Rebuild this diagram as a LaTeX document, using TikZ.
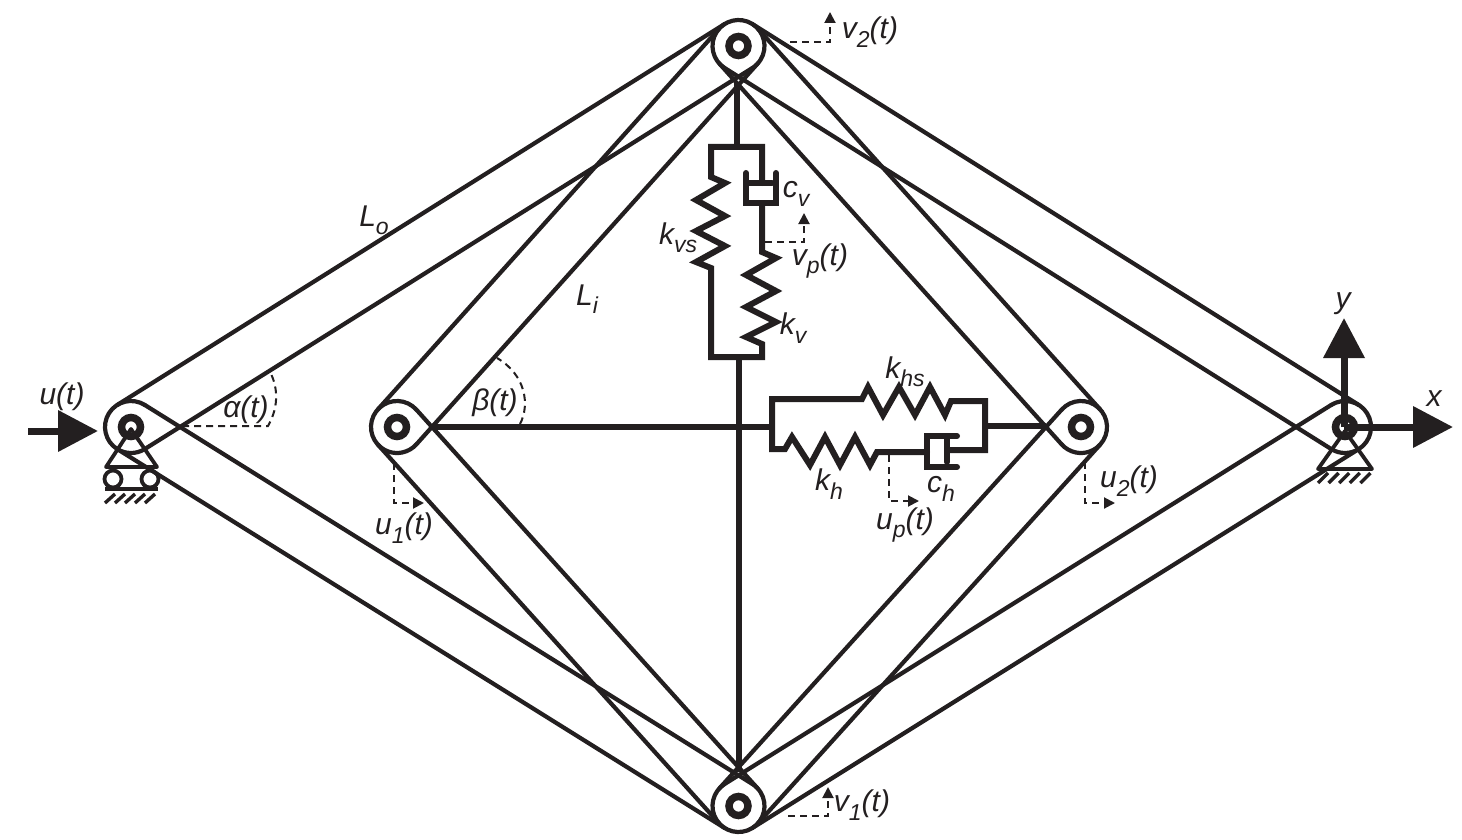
\documentclass[tikz,border=0pt]{standalone}
\usepackage{fontspec}
\setmainfont{Liberation Sans}
\usetikzlibrary{calc,arrows.meta}
\definecolor{ink}{HTML}{231F20}
\newcommand{\sbs}[1]{\raisebox{-0.28em}{\fontsize{23}{23}\selectfont #1}}
\newcommand{\rodbar}[2]{%
  \draw[rodline] ($(#1)!26pt!90:(#2)$) -- ($(#2)!26pt!-90:(#1)$);
  \draw[rodline] ($(#1)!26pt!-90:(#2)$) -- ($(#2)!26pt!90:(#1)$);}
\newcommand{\pinarc}[3]{\draw[rodline] ($(#1)+(#2:26pt)$) arc[start angle=#2,end angle=#3,radius=26pt];}
\tikzset{
  rodline/.style={draw=ink,line width=4.2pt,line cap=round,line join=round},
  springline/.style={draw=ink,line width=6pt,line cap=round,line join=miter},
  strut/.style={draw=ink,line width=5.5pt},
  ring/.style={circle,draw=ink,line width=7.5pt,minimum size=19pt,inner sep=0pt,fill=white},
  support/.style={draw=ink,line width=3.8pt,line join=round},
  hatchline/.style={draw=ink,line width=3.4pt},
  dashline/.style={draw=ink,line width=2pt,dash pattern=on 7pt off 5pt,-{Triangle[length=11pt,width=11pt]}},
  angleline/.style={draw=ink,line width=2pt,dash pattern=on 7pt off 5pt},
  bigarrow/.style={draw=ink,line width=7pt,-{Triangle[length=40pt,width=40pt]}},
  lab/.style={inner sep=0pt,text=ink,font=\fontsize{30}{31}\selectfont\itshape},
}
\begin{document}
\begin{tikzpicture}[x=1pt,y=-1pt]
\useasboundingbox (0,0) rectangle (1462,840);
\coordinate (T) at (738.5,46);
\coordinate (B) at (738.5,806);
\coordinate (L) at (131,427);
\coordinate (R) at (1345,427);
\coordinate (Ia) at (397,427);
\coordinate (Ib) at (1081,427);
% rods
\rodbar{L}{T}\rodbar{L}{B}\rodbar{R}{T}\rodbar{R}{B}
\rodbar{Ia}{T}\rodbar{Ia}{B}\rodbar{Ib}{T}\rodbar{Ib}{B}
\pinarc{L}{58}{302}
\pinarc{R}{122}{-122}
\pinarc{Ia}{42}{318}
\pinarc{Ib}{138}{-138}
\pinarc{T}{238}{-58}
\pinarc{B}{122}{418}
% struts
\coordinate (tipT) at (737,82);
\coordinate (boxTop) at (737,147);
\coordinate (boxBot) at (739,357);
\coordinate (tipB) at (739,772);
\coordinate (tipI) at (430,427);
\coordinate (hbox) at (772,427);
\coordinate (hboxR) at (985,426);
\coordinate (tipJ) at (1046,426);
\draw[strut] (tipT) -- (boxTop);
\draw[strut] (boxBot) -- (tipB);
\draw[strut] (tipI) -- (hbox);
\draw[strut] (hboxR) -- (tipJ);
% vertical springs and damper
\draw[springline] (762,183) -- (762,147) -- (711,147) -- (711,177) -- (725,183) -- (696,200) -- (725,216) -- (696,231) -- (725,246) -- (696,262) -- (711,268) -- (711,357) -- (762,357) -- (762,344) -- (746,337) -- (776,322) -- (746,307) -- (776,291) -- (746,275) -- (776,258) -- (762,252) -- (762,203);
\draw[springline] (746,173) -- (746,203) -- (776,203) -- (776,173);
\draw[springline] (746,183) -- (772,183);
% horizontal springs and damper
\draw[springline] (947,450) -- (985,450) -- (985,401) -- (951,401) -- (945,415) -- (930,387) -- (915,415) -- (899,387) -- (883,415) -- (868,387) -- (862,399) -- (772,399) -- (772,449) -- (785,449) -- (792,437) -- (810,465) -- (825,437) -- (840,465) -- (855,437) -- (870,465) -- (877,452) -- (927,452);
\draw[springline] (957,436) -- (927,436) -- (927,467) -- (957,467);
\draw[springline] (947,438) -- (947,462);
% supports
\node[ring] (pinL) at (L) {};
\node[ring] (pinR) at (R) {};
\node[ring] (pinIa) at (Ia) {};
\node[ring] (pinIb) at (Ib) {};
\node[ring] (pinT) at (T) {};
\node[ring] (pinB) at (B) {};
\draw[support] (131,429) -- (106,467) -- (157,467) -- cycle;
\draw[support] (113,479) circle[radius=8.5pt];
\draw[support] (150,479) circle[radius=8.5pt];
\draw[hatchline] (105,489) -- (158,489);
\foreach \i in {0,...,4}{\draw[hatchline] ({105+10*\i},503) -- ({115+10*\i},494);}
\draw[support] (1345,431) -- (1318,469) -- (1372,469) -- cycle;
\foreach \i in {0,...,4}{\draw[hatchline] ({1318+10.6*\i},483) -- ({1328+10.6*\i},473);}
% load and axes
\coordinate (ua) at (28,431);
\coordinate (ub) at (98,431);
\coordinate (ya) at (1344,427);
\coordinate (yb) at (1344,318);
\coordinate (xb) at (1453,427);
\draw[bigarrow] (ua) -- (ub);
\draw[bigarrow] (ya) -- (yb);
\draw[bigarrow] (ya) -- (xb);
% displacement markers
\draw[dashline] (790,42) -- (830,42) -- (830,12);
\draw[dashline] (765,242) -- (804,242) -- (804,213);
\draw[dashline] (394,463) -- (394,503) -- (424,503);
\draw[dashline] (1085,462) -- (1085,503) -- (1115,503);
\draw[dashline] (889,455) -- (889,501) -- (919,501);
\draw[dashline] (788,816) -- (828,816) -- (828,787);
% angles
\draw[angleline] (182,426) -- (268,426) .. controls (280,405) and (277,385) .. (270,372);
\draw[angleline] (520,424) .. controls (530,405) and (526,375) .. (497,358);
% labels
\node[lab] (tu) at (62,397) {u(t)};
\node[lab] (talpha) at (246,410) {α(t)};
\node[lab] (tbeta) at (495,403) {β(t)};
\node[lab] (tLo) at (374,220) {L\sbs{o}};
\node[lab] (tLi) at (587,299) {L\sbs{i}};
\node[lab] (tuone) at (404,528) {u\sbs{1}(t)};
\node[lab] (tkvs) at (678,238) {k\sbs{vs}};
\node[lab] (tcv) at (796,194) {c\sbs{v}};
\node[lab] (tvp) at (820,261) {v\sbs{p}(t)};
\node[lab] (tkv) at (793,328) {k\sbs{v}};
\node[lab] (tkhs) at (905,372) {k\sbs{hs}};
\node[lab] (tkh) at (829,484) {k\sbs{h}};
\node[lab] (tch) at (941,489) {c\sbs{h}};
\node[lab] (tup) at (905,525) {u\sbs{p}(t)};
\node[lab] (tutwo) at (1129,481) {u\sbs{2}(t)};
\node[lab] (tvtwo) at (870,32) {v\sbs{2}(t)};
\node[lab] (tvone) at (862,805) {v\sbs{1}(t)};
\node[lab] (ty) at (1343,304) {y};
\node[lab] (tx) at (1434,399) {x};
\end{tikzpicture}
\end{document}
